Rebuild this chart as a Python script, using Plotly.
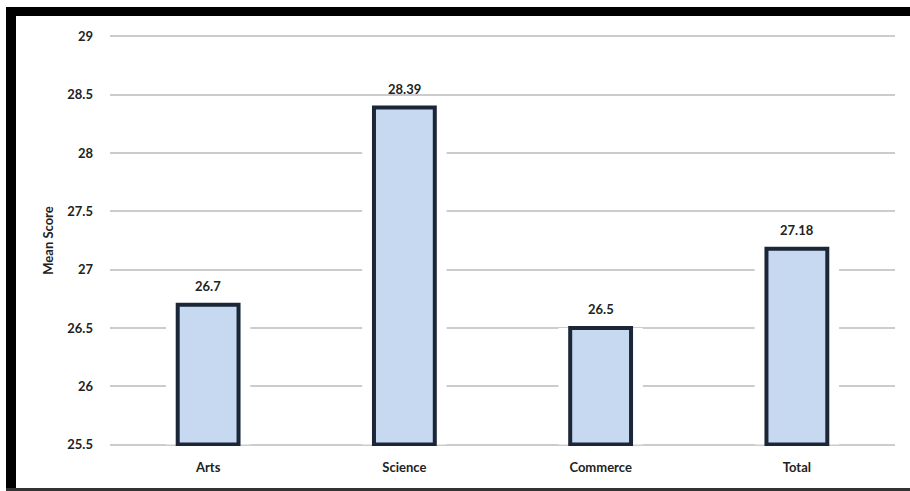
import plotly.graph_objects as go

categories = ["Arts", "Science", "Commerce", "Total"]
mean_scores = [26.7, 28.39, 26.5, 27.18]
value_labels = ["26.7", "28.39", "26.5", "27.18"]
y_ticks = [25.5, 26, 26.5, 27, 27.5, 28, 28.5, 29]
y_tick_labels = ["25.5", "26", "26.5", "27", "27.5", "28", "28.5", "29"]

Y_MIN, Y_MAX = 25.5, 29
PAD = 0.012
W, H = 910, 491
L, R, T, B = 110, 15, 35, 45
PW, PH = W - L - R, H - T - B

def px_x(px):
    return (px - L) / PW

def px_y(py):
    return (H - B - py) / PH

FONT = "Lato"
TXT = dict(family=FONT, size=13, color="#222222", weight="bold")
fig = go.Figure()

# white halo behind each bar (breaks gridlines around bars)
fig.add_trace(go.Bar(
    x=categories, y=[v - Y_MIN for v in mean_scores], base=Y_MIN,
    width=0.43, marker=dict(color="white", line=dict(width=0)),
    hoverinfo="skip", showlegend=False,
))
fig.add_trace(go.Bar(
    x=categories, y=[v - Y_MIN for v in mean_scores], base=Y_MIN,
    width=0.31,
    marker=dict(color="#c6d9f0", line=dict(color="#1b2636", width=4)),
    showlegend=False,
))

annotations = [
    dict(x=c, y=v, text=t, showarrow=False, yanchor="bottom", yshift=9, font=TXT)
    for c, v, t in zip(categories, mean_scores, value_labels)
]

shapes = [
    dict(type="rect", xref="paper", yref="paper", x0=px_x(6), x1=px_x(16), y0=px_y(491), y1=px_y(7),
         fillcolor="black", line=dict(width=0), layer="above"),
    dict(type="rect", xref="paper", yref="paper", x0=px_x(6), x1=px_x(910), y0=px_y(16), y1=px_y(7),
         fillcolor="black", line=dict(width=0), layer="above"),
    dict(type="rect", xref="paper", yref="paper", x0=px_x(6), x1=px_x(910), y0=px_y(491), y1=px_y(488),
         fillcolor="#333333", line=dict(width=0), layer="above"),
]

fig.update_layout(
    width=W, height=H,
    margin=dict(l=L, r=R, t=T, b=B),
    paper_bgcolor="white", plot_bgcolor="white",
    barmode="overlay",
    shapes=shapes,
    annotations=annotations,
    font=TXT,
    xaxis=dict(showgrid=False, showline=False, ticks="", ticklabelstandoff=12, tickfont=TXT),
    yaxis=dict(range=[Y_MIN - PAD, Y_MAX + PAD], tickvals=y_ticks, ticktext=y_tick_labels,
               showgrid=True, gridcolor="#cccccc", gridwidth=2, zeroline=False,
               showline=False, ticks="", ticklabelstandoff=16, tickfont=TXT,
               title=dict(text="Mean Score", standoff=10, font=TXT)),
)

fig.write_html("out.html", config={"displayModeBar": False},
               post_script="document.body.style.margin='0px';")
